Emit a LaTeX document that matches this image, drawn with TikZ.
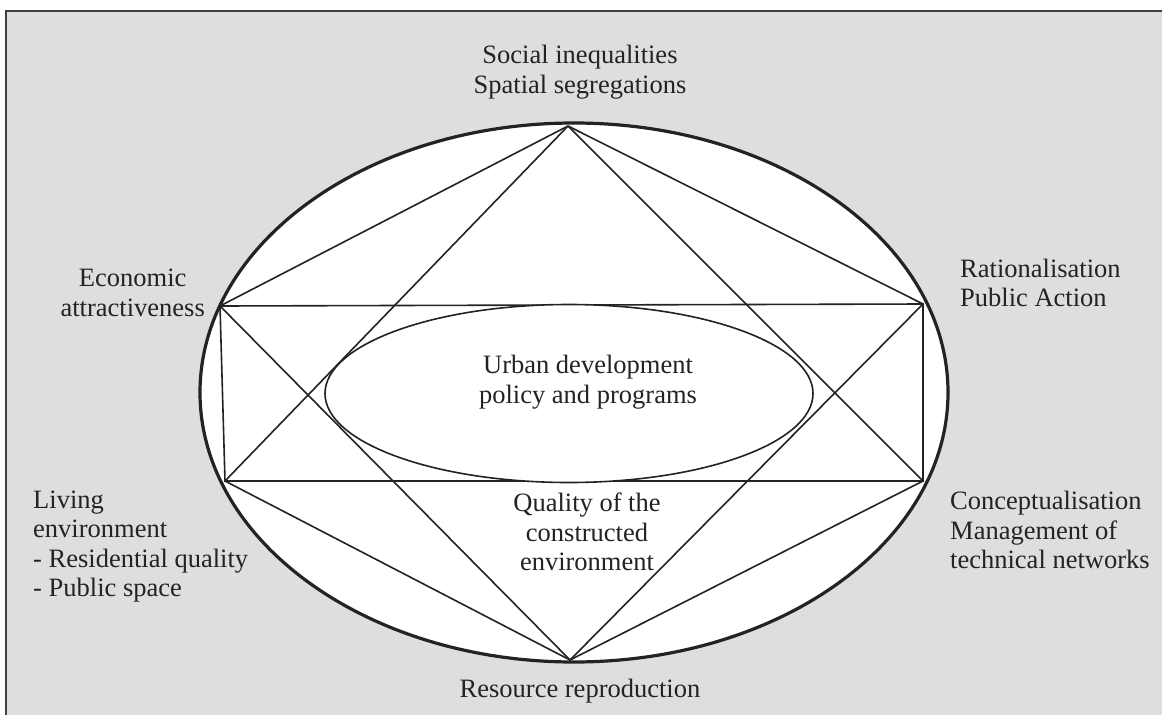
\documentclass[tikz,border=0pt]{standalone}
\usepackage{fontspec}
\setmainfont{Liberation Serif}
\definecolor{bgc}{RGB}{222,222,222}
\definecolor{ink}{RGB}{35,35,35}
\tikzset{
  lbl/.style={inner sep=0pt, text=ink, font=\fontsize{26.5}{29.6}\selectfont},
  thin/.style={draw=ink, line width=1.6pt},
  outer/.style={draw=ink, line width=3.2pt, fill=white},
}
\begin{document}
\begin{tikzpicture}[x=1pt,y=-1pt]
\useasboundingbox (0,0) rectangle (1162,715);
% background panel
\fill[bgc] (6,11) rectangle (1162,715);
\draw[draw=black!75, line width=1.5pt] (6,715) -- (6,11) -- (1162,11);
% outer ellipse
\path[outer] (574,392.5) ellipse [x radius=374pt, y radius=269.5pt];
% vertices
\coordinate (T) at (568,126);
\coordinate (B) at (570,660);
\coordinate (LU) at (220,306);
\coordinate (RU) at (923,304);
\coordinate (LL) at (225,481);
\coordinate (RL) at (923,481);
% rectangle
\draw[thin] (LU) -- (RU) -- (RL) -- (LL) -- cycle;
% lines from top and bottom vertices
\draw[thin] (T) -- (LU);
\draw[thin] (T) -- (RU);
\draw[thin] (T) -- (LL);
\draw[thin] (T) -- (RL);
\draw[thin] (B) -- (LU);
\draw[thin] (B) -- (RU);
\draw[thin] (B) -- (LL);
\draw[thin] (B) -- (RL);
% inner ellipse
\path[draw=ink, line width=1.6pt, fill=white] (569,393.5) ellipse [x radius=244pt, y radius=89pt];
% labels
\node[lbl, align=center] (urban) at (588,382) {Urban development\\policy and programs};
\node[lbl, align=center] (social) at (580,72) {Social inequalities\\Spatial segregations};
\node[lbl, align=center, anchor=east] (econ) at (205,293) {Economic\\attractiveness};
\node[lbl, align=left, anchor=west] (rat) at (960,283) {Rationalisation\\Public Action};
\node[lbl, align=left, anchor=west] (living) at (33,546.5) {Living\\environment\\- Residential quality\\- Public space};
\node[lbl, align=left, anchor=west] (concept) at (950,530) {Conceptualisation\\Management of\\technical networks};
\node[lbl, align=center] (quality) at (587,532) {Quality of the\\constructed\\environment};
\node[lbl] (resource) at (580,691) {Resource reproduction};
\end{tikzpicture}
\end{document}
